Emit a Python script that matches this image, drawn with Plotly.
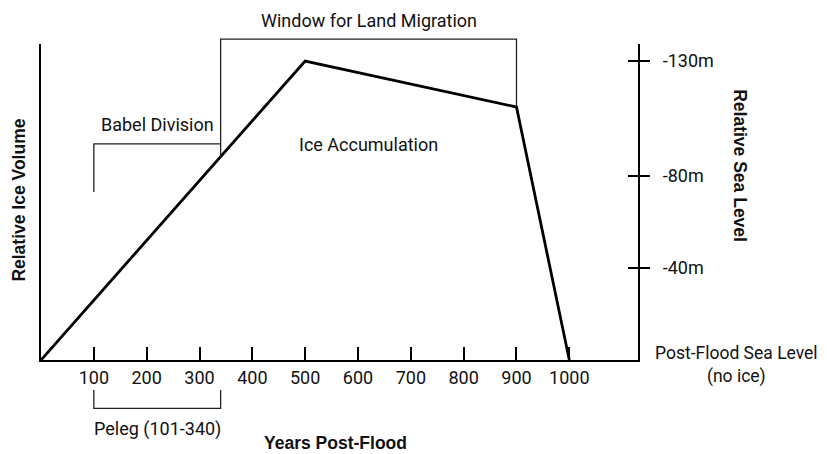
import plotly.graph_objects as go

# ---- data ----
YEARS = [0, 500, 900, 1000]
ICE = [0, 130, 110, 0]          # relative ice volume, in metres of sea-level drop

X_TICKS = [100, 200, 300, 400, 500, 600, 700, 800, 900, 1000]
SEA_TICKS = [40, 80, 130]
SEA_TICK_TEXT = ["-40m", "-80m", "-130m"]

WINDOW_X = [340, 340, 900, 900]
WINDOW_Y = [88, 139.5, 139.5, 110]
BABEL_X = [100, 100, 340]
BABEL_Y = [73, 94, 94]
PELEG_X = [100, 100, 340, 340]
PELEG_Y = [-13, -21, -21, -13]

X_RANGE = [0, 1130]
Y_RANGE = [0, 137.4]

# ---- layout geometry ----
W, H = 819, 446                     # page adds an 8px body margin
M_L, M_R, M_T, M_B = 33, 189, 28, 42
D0, D1 = 52 / 376, 368 / 376        # domain of the visible axes inside the plot area
span = (Y_RANGE[1] - Y_RANGE[0]) / (D1 - D0)
Y_FULL = [Y_RANGE[0] - D0 * span, Y_RANGE[1] + (1 - D1) * span]

TXT = "#111111"
REG = "Roboto, 'Liberation Sans', Arial, sans-serif"
BOLD = "'Liberation Sans', Arial, sans-serif"
FS = 18
FS_B = 17.5

fig = go.Figure()
fig.add_trace(go.Scatter(x=YEARS, y=ICE, mode="lines", yaxis="y4",
                         line=dict(color="#000000", width=2.8),
                         showlegend=False, hoverinfo="skip"))
for bx, by in [(WINDOW_X, WINDOW_Y), (BABEL_X, BABEL_Y), (PELEG_X, PELEG_Y)]:
    fig.add_trace(go.Scatter(x=bx, y=by, mode="lines", yaxis="y4",
                             line=dict(color="#222222", width=1.3),
                             showlegend=False, hoverinfo="skip"))
# empty traces so the axis-only subplots are drawn
fig.add_trace(go.Scatter(x=[], y=[], yaxis="y", showlegend=False))
fig.add_trace(go.Scatter(x=[], y=[], yaxis="y2", showlegend=False))
fig.add_trace(go.Scatter(x=[], y=[], yaxis="y3", showlegend=False))

fig.update_layout(
    width=W, height=H,
    margin=dict(l=M_L, r=M_R, t=M_T, b=M_B),
    paper_bgcolor="white", plot_bgcolor="rgba(0,0,0,0)",
    font=dict(family=REG, size=FS, color=TXT),
    showlegend=False,
    xaxis=dict(range=X_RANGE, anchor="y", tickvals=X_TICKS, ticks="inside", ticklen=13,
               tickwidth=2, tickcolor="#000", showline=True, linewidth=2.2,
               linecolor="#000", showgrid=False, zeroline=False, automargin=False,
               tickfont=dict(family=REG, size=FS, color=TXT),
               ticklabelstandoff=0),
    yaxis=dict(range=Y_RANGE, domain=[D0, D1], anchor="x", showline=True,
               linewidth=2.2, linecolor="#000", automargin=False,
               showticklabels=False, ticks="", showgrid=False, zeroline=False),
    yaxis2=dict(range=Y_RANGE, overlaying="y", side="right", anchor="x",
                tickvals=SEA_TICKS, ticktext=SEA_TICK_TEXT, ticks="outside",
                ticklen=10, tickwidth=2, tickcolor="#000", showline=True,
                linewidth=2.2, linecolor="#000", showgrid=False, zeroline=False,
                ticklabelstandoff=9, automargin=False,
                tickfont=dict(family=REG, size=FS, color=TXT)),
    yaxis3=dict(range=Y_RANGE, overlaying="y", side="right", anchor="x",
                tickvals=SEA_TICKS, ticks="inside", ticklen=10, tickwidth=2,
                tickcolor="#000", showticklabels=False, showline=False,
                showgrid=False, zeroline=False, automargin=False),
    yaxis4=dict(range=Y_FULL, domain=[0, 1], anchor="x", visible=False,
                showgrid=False, zeroline=False),
)

ann = [
    dict(text="Window for Land Migration", x=620, y=WINDOW_Y[1], xref="x", yref="y4",
         yanchor="bottom", yshift=6, showarrow=False),
    dict(text="Babel Division", x=220, y=BABEL_Y[1], xref="x", yref="y4",
         yanchor="bottom", yshift=7, showarrow=False),
    dict(text="Ice Accumulation", x=620, y=93.5, xref="x", yref="y4", showarrow=False),
    dict(text="Peleg (101-340)", x=220, y=PELEG_Y[1], xref="x", yref="y4",
         yanchor="top", yshift=-8, showarrow=False),
    dict(text="Post-Flood Sea Level<br>(no ice)", x=1.1655, y=0, xref="paper", yref="y4",
         xanchor="center", yanchor="middle", yshift=-5, showarrow=False,
         font=dict(family=REG, size=17.5, color=TXT)),
    dict(text="<b>Years Post-Flood</b>", x=(335 - 41) / 597, y=(412 - 453.5) / 376,
         xref="paper", yref="paper", xanchor="center", yanchor="bottom",
         borderpad=0, showarrow=False, font=dict(family=BOLD, size=FS_B, color=TXT)),
    dict(text="<b>Relative Ice Volume</b>", x=-0.0375, y=(412 - 200) / 376,
         xref="paper", yref="paper", textangle=-90, showarrow=False,
         xanchor="center", yanchor="middle",
         font=dict(family=BOLD, size=FS_B, color=TXT)),
    dict(text="<b>Relative Sea Level</b>", x=1.1705, y=(412 - 166) / 376,
         xref="paper", yref="paper", textangle=90, showarrow=False,
         xanchor="center", yanchor="middle",
         font=dict(family=BOLD, size=FS_B, color=TXT)),
]
fig.update_layout(annotations=ann)

fig.write_html("out.html")
